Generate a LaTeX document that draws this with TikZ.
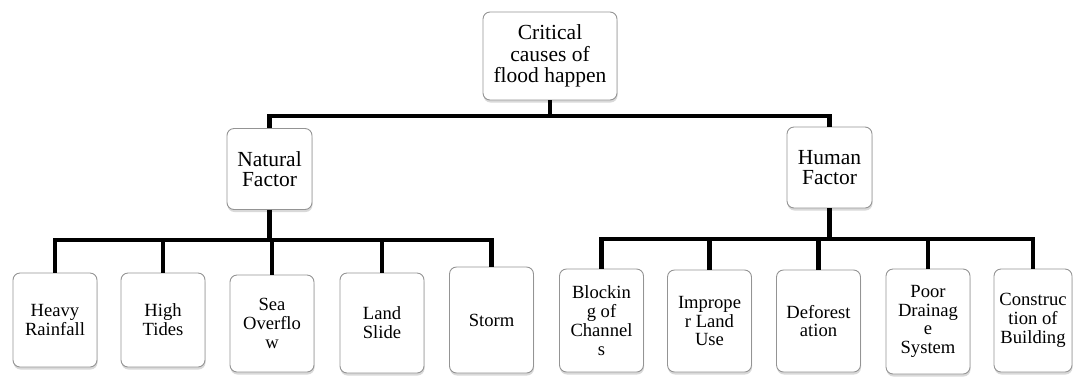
\documentclass[tikz,border=0pt]{standalone}
\usepackage{fontspec}
\setmainfont{Liberation Serif}
\usetikzlibrary{shadows}
\begin{document}
\begin{tikzpicture}[x=1pt,y=-1pt,
  box/.style={draw=black!42, line width=0.9pt, fill=white, rounded corners=7pt,
    align=center, inner sep=1pt,
    drop shadow={shadow xshift=0.5pt, shadow yshift=-2.5pt, opacity=0.25, fill=black!60}},
  topbox/.style={box, minimum width=134pt, minimum height=88pt, font=\fontsize{21.5}{21.3}\selectfont},
  midbox/.style={box, minimum width=85pt, minimum height=81pt, font=\fontsize{21.5}{19.5}\selectfont},
  leafbox/.style={box, minimum width=84pt, font=\fontsize{18.6}{18.8}\selectfont},
  conn/.style={draw=black, line width=4.8pt, line join=miter}]
\useasboundingbox (0,0) rectangle (1073,376);

\coordinate (b0) at (0,116);
\coordinate (b1) at (0,240);
\coordinate (b2) at (0,239);

% boxes
\node[topbox] (top) at (550,56) {Critical\\causes of\\flood happen};
\node[midbox] (nat) at (269.5,169) {Natural\\Factor};
\node[midbox] (hum) at (829.5,167.5) {Human\\Factor};

\node[leafbox, minimum height=94pt] (heavy) at (55,320) {Heavy\\Rainfall};
\node[leafbox, minimum height=94pt] (high) at (163,320) {High\\Tides};
\node[leafbox, minimum height=97pt] (sea) at (272,323.5) {Sea\\Overflo\\w};
\node[leafbox, minimum height=100pt] (land) at (382,323) {Land\\Slide};
\node[leafbox, minimum height=106pt] (storm) at (491.5,320) {Storm};

\node[leafbox, minimum height=103pt] (block) at (601.5,320.5) {Blockin\\g of\\Channel\\s};
\node[leafbox, minimum height=102pt] (impr) at (709.5,321) {Imprope\\r Land\\Use};
\node[leafbox, minimum height=102pt] (defo) at (818.5,321) {Deforest\\ation};
\node[leafbox, minimum height=105pt] (poor) at (928,321.5) {Poor\\Drainag\\e\\System};
\node[leafbox, minimum height=103pt, minimum width=78pt] (cons) at (1033,320.5) {Construc\\tion of\\Building};

% connectors
\draw[conn] (top.south) -- (top.south |- b0) -| (nat.north);
\draw[conn] (top.south |- b0) -| (hum.north);

\draw[conn] (nat.south) -- (nat.south |- b1) -| (heavy.north);
\draw[conn] (nat.south |- b1) -| (high.north);
\draw[conn] (nat.south |- b1) -| (sea.north);
\draw[conn] (nat.south |- b1) -| (land.north);
\draw[conn] (nat.south |- b1) -| (storm.north);

\draw[conn] (hum.south) -- (hum.south |- b2) -| (block.north);
\draw[conn] (hum.south |- b2) -| (impr.north);
\draw[conn] (hum.south |- b2) -| (defo.north);
\draw[conn] (hum.south |- b2) -| (poor.north);
\draw[conn] (hum.south |- b2) -| (cons.north);
\end{tikzpicture}
\end{document}
